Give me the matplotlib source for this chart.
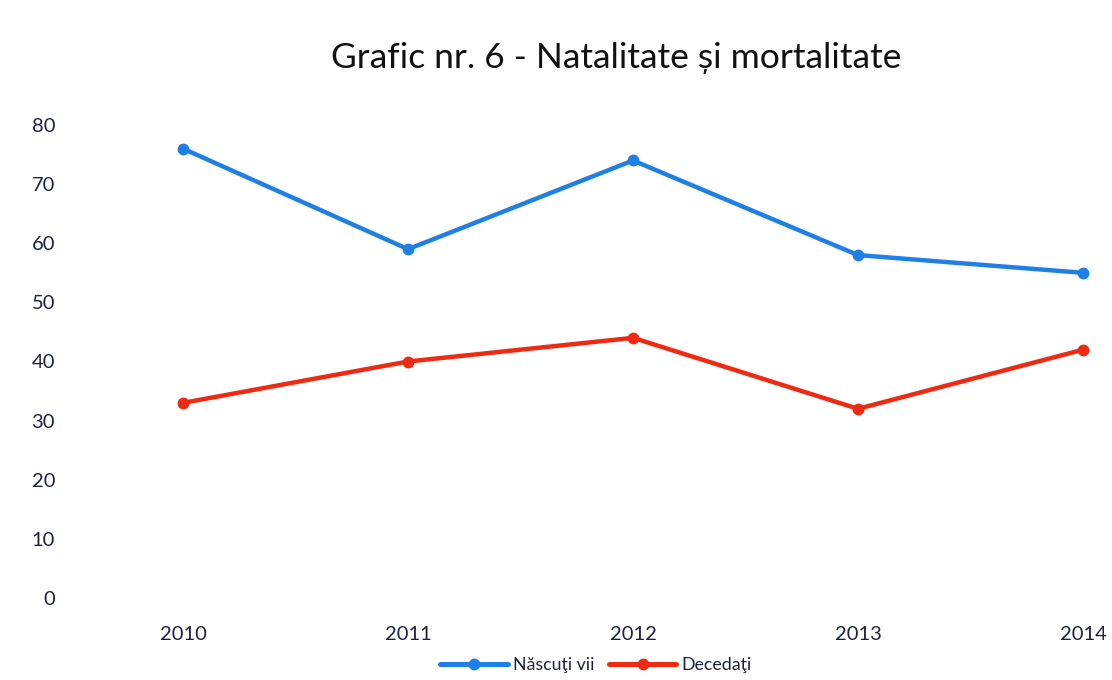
import matplotlib
matplotlib.use("Agg")
import matplotlib.pyplot as plt

years = ["2010", "2011", "2012", "2013", "2014"]
nascuti_vii = [76, 59, 74, 58, 55]
decedati = [33, 40, 44, 32, 42]
y_ticks = [0, 10, 20, 30, 40, 50, 60, 70, 80]

plt.rcParams['font.family'] = ['Lato', 'DejaVu Sans']

W, H = 1112, 680
fig = plt.figure(figsize=(W / 100, H / 100), dpi=100)
left_px, right_px = 62, 1100
bottom_px, top_px = 598, 125
ax = fig.add_axes([left_px / W, (H - bottom_px) / H, (right_px - left_px) / W, (bottom_px - top_px) / H])

x = list(range(len(years)))
blue = '#1e80e4'
red = '#ee2a12'
ax.plot(x, nascuti_vii, color=blue, lw=3.2, marker='o', ms=7.5, label='Născuţi vii',
        solid_capstyle='round', clip_on=False)
ax.plot(x, decedati, color=red, lw=3.2, marker='o', ms=7.5, label='Decedaţi',
        solid_capstyle='round', clip_on=False)

ax.set_xlim(-(183 - left_px) / 225, 4 + (right_px - 1083) / 225)
ax.set_ylim(0, 80)
ax.set_yticks(y_ticks)
ax.set_yticklabels([str(v) for v in y_ticks])
ax.set_xticks(x)
ax.set_xticklabels(years)
for s in ax.spines.values():
    s.set_visible(False)
ax.tick_params(axis='both', length=0, labelsize=14.5, colors='#1c2340')
ax.tick_params(axis='y', pad=5)
ax.tick_params(axis='x', pad=20)

fig.text(616 / W, 1 - 58 / H, 'Grafic nr. 6 - Natalitate și mortalitate', ha='center', va='center',
         fontsize=25.5, color='#111111')

leg = fig.legend(loc='center', bbox_to_anchor=(596 / W, 1 - 665 / H), ncol=2, frameon=False,
                 fontsize=12.8, handlelength=3.8, columnspacing=0.8, handletextpad=0.3)
for t in leg.get_texts():
    t.set_color('#1c2340')
for h in leg.legend_handles:
    h.set_linewidth(3.6)

fig.savefig('out.png', dpi=100, facecolor='white')
